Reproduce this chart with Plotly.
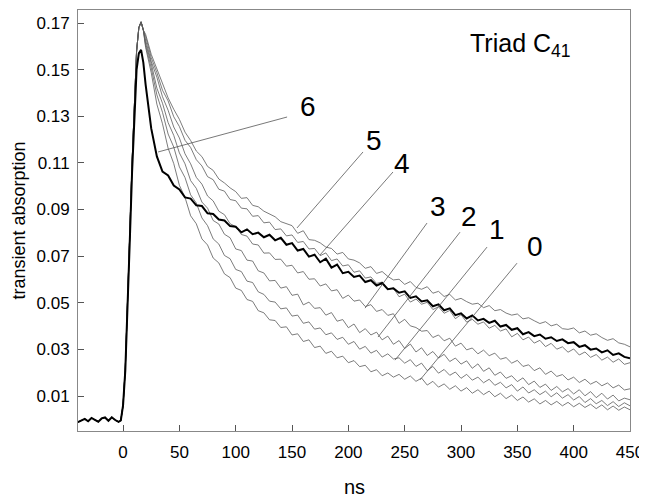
import plotly.graph_objects as go

# ---- time grid (ns) ----
baseline_ns = [-40, -37, -34, -31, -28, -25, -22, -19, -16, -13, -10, -7, -4]
rise_ns = [-2, 0, 2, 4, 6, 8, 10, 12, 14, 16, 18]
tail_ns = list(range(20, 451, 5))

# ---- shared pre-trigger baseline and rising edge ----
baseline = [-0.0012, -0.0004, 0.0002, -0.0008, 0.0006, -0.0002, -0.0010,
            0.0004, 0.0008, -0.0006, 0.0009, -0.0003, -0.0011]
rise_thin = [-0.0005, 0.006, 0.022, 0.048, 0.080, 0.110, 0.138, 0.158, 0.168, 0.1705, 0.167]
rise_thick = [-0.0005, 0.006, 0.021, 0.046, 0.077, 0.106, 0.132, 0.150, 0.157, 0.1585, 0.153]

# ---- decays (20 ns .. 450 ns, every 5 ns) ----
tail_5 = [.1652, .1566, .1503, .1441, .1379, .1330, .1287, .1232, .1196, .1151,
          .1127, .1085, .1068, .1031, .1014, .0993, .0977, .0948, .0951, .0918,
          .0912, .0893, .0881, .0869, .0848, .0839, .0831, .0798, .0809, .0771,
          .0768, .0757, .0739, .0733, .0709, .0716, .0688, .0683, .0671, .0648,
          .0655, .0626, .0634, .0613, .0598, .0601, .0579, .0591, .0566, .0558,
          .0569, .0541, .0549, .0527, .0536, .0512, .0519, .0505, .0494, .0498,
          .0479, .0488, .0466, .0471, .0456, .0447, .0452, .0431, .0436, .0423,
          .0411, .0419, .0401, .0408, .0389, .0386, .0392, .0371, .0379, .0361,
          .0367, .0351, .0339, .0346, .0328, .0322, .0311]
tail_4 = [.1643, .1552, .1487, .1412, .1366, .1298, .1256, .1197, .1166, .1114,
          .1087, .1041, .1028, .0987, .0979, .0943, .0938, .0906, .0903, .0871,
          .0874, .0843, .0846, .0814, .0817, .0787, .0791, .0759, .0763, .0731,
          .0733, .0702, .0714, .0681, .0688, .0658, .0663, .0631, .0637, .0606,
          .0611, .0583, .0589, .0558, .0563, .0526, .0537, .0503, .0516, .0494,
          .0502, .0471, .0483, .0455, .0467, .0432, .0449, .0417, .0429, .0408,
          .0418, .0391, .0403, .0379, .0388, .0354, .0369, .0341, .0353, .0327,
          .0339, .0312, .0326, .0301, .0311, .0288, .0302, .0276, .0289, .0266,
          .0278, .0254, .0267, .0245, .0259, .0236, .0243]
tail_6 = [.1437, .1248, .1128, .1063, .1046, .1003, .0986, .0952, .0947, .0918,
          .0915, .0884, .0881, .0857, .0853, .0829, .0826, .0802, .0815, .0794,
          .0801, .0781, .0792, .0768, .0779, .0749, .0756, .0724, .0731, .0698,
          .0706, .0674, .0689, .0651, .0664, .0627, .0633, .0611, .0617, .0589,
          .0597, .0574, .0585, .0558, .0562, .0543, .0549, .0521, .0528, .0506,
          .0511, .0485, .0493, .0468, .0476, .0447, .0455, .0433, .0446, .0424,
          .0431, .0414, .0423, .0398, .0405, .0384, .0391, .0365, .0374, .0357,
          .0364, .0346, .0352, .0336, .0343, .0327, .0331, .0311, .0318, .0299,
          .0304, .0287, .0296, .0276, .0283, .0268, .0262]
tail_3 = [.1627, .1536, .1468, .1384, .1326, .1254, .1207, .1139, .1096, .1038,
          .1009, .0958, .0937, .0893, .0878, .0839, .0827, .0793, .0786, .0752,
          .0748, .0713, .0714, .0686, .0687, .0657, .0661, .0628, .0634, .0601,
          .0603, .0572, .0581, .0551, .0556, .0519, .0533, .0507, .0512, .0484,
          .0492, .0463, .0471, .0446, .0453, .0412, .0429, .0401, .0394, .0378,
          .0381, .0351, .0362, .0337, .0348, .0314, .0327, .0298, .0306, .0281,
          .0297, .0273, .0284, .0258, .0265, .0241, .0253, .0227, .0234, .0209,
          .0221, .0193, .0207, .0184, .0192, .0169, .0181, .0158, .0172, .0151,
          .0163, .0144, .0156, .0135, .0147, .0126, .0131]
tail_2 = [.1613, .1527, .1421, .1356, .1273, .1218, .1143, .1096, .1024, .0991,
          .0932, .0906, .0853, .0838, .0794, .0779, .0731, .0724, .0683, .0679,
          .0637, .0628, .0594, .0596, .0563, .0569, .0532, .0537, .0491, .0503,
          .0476, .0479, .0447, .0458, .0421, .0428, .0393, .0409, .0372, .0389,
          .0362, .0374, .0341, .0357, .0322, .0338, .0304, .0323, .0289, .0307,
          .0274, .0291, .0263, .0279, .0248, .0263, .0237, .0251, .0219, .0238,
          .0206, .0221, .0189, .0203, .0176, .0187, .0162, .0178, .0149, .0164,
          .0137, .0151, .0124, .0141, .0118, .0132, .0109, .0127, .0101, .0119,
          .0093, .0112, .0087, .0104, .0079, .0091, .0084]
tail_1 = [.1604, .1508, .1392, .1317, .1224, .1168, .1083, .1037, .0963, .0928,
          .0864, .0831, .0774, .0752, .0703, .0689, .0643, .0634, .0593, .0587,
          .0547, .0536, .0507, .0503, .0474, .0478, .0443, .0447, .0412, .0418,
          .0387, .0392, .0363, .0371, .0343, .0352, .0322, .0334, .0301, .0313,
          .0284, .0296, .0267, .0281, .0259, .0264, .0241, .0256, .0227, .0241,
          .0209, .0227, .0198, .0214, .0189, .0203, .0176, .0193, .0168, .0181,
          .0157, .0172, .0146, .0159, .0135, .0149, .0121, .0139, .0113, .0127,
          .0106, .0121, .0097, .0114, .0091, .0106, .0083, .0098, .0072, .0089,
          .0067, .0081, .0059, .0076, .0055, .0071, .0058]
tail_0 = [.1596, .1487, .1352, .1268, .1163, .1097, .1004, .0952, .0873, .0839,
          .0774, .0748, .0692, .0671, .0624, .0608, .0563, .0553, .0514, .0506,
          .0466, .0457, .0427, .0424, .0394, .0397, .0362, .0367, .0334, .0341,
          .0308, .0314, .0283, .0292, .0264, .0271, .0243, .0252, .0226, .0232,
          .0204, .0213, .0187, .0199, .0181, .0193, .0172, .0186, .0163, .0177,
          .0147, .0163, .0138, .0152, .0129, .0144, .0121, .0136, .0112, .0127,
          .0106, .0121, .0097, .0112, .0089, .0104, .0081, .0096, .0074, .0088,
          .0066, .0081, .0062, .0077, .0058, .0073, .0054, .0069, .0051, .0065,
          .0046, .0062, .0041, .0057, .0039, .0053, .0041]

thin_tails = {"0": tail_0, "1": tail_1, "2": tail_2, "3": tail_3, "4": tail_4, "5": tail_5}

# ---- tick labels ----
y_ticks = [0.01, 0.03, 0.05, 0.07, 0.09, 0.11, 0.13, 0.15, 0.17]
y_ticktext = ["0.01", "0.03", "0.05", "0.07", "0.09", "0.11", "0.13", "0.15", "0.17"]
x_ticks = [0, 50, 100, 150, 200, 250, 300, 350, 400, 450]
x_ticktext = ["0", "50", "100", "150", "200", "250", "300", "350", "400", "450"]

# ---- curve labels: (text, label x, label y, leader start x, y, leader end x, y) ----
curve_labels = ["6", "5", "4", "3", "2", "1", "0"]
label_x = [164, 223, 248, 280, 307, 332, 366]
label_y = [0.1340, 0.1198, 0.1099, 0.0911, 0.0872, 0.0816, 0.0743]
leader_x0 = [145.6, 213.0, 239.6, 269.8, 299.1, 323.1, 349.7]
leader_y0 = [0.1297, 0.1147, 0.1061, 0.0842, 0.0803, 0.0739, 0.0670]
leader_x1 = [31.1, 154.4, 174.8, 214.8, 226.3, 241.4, 263.6]
leader_y1 = [0.1147, 0.0821, 0.0705, 0.0477, 0.0353, 0.0254, 0.0169]

FONT = "Liberation Sans, Arial, Helvetica, sans-serif"

fig = go.Figure()

def full_x(tail):
    return baseline_ns + rise_ns + tail_ns[:len(tail)]

for name, tail in thin_tails.items():
    fig.add_trace(go.Scatter(
        x=full_x(tail), y=baseline + rise_thin + tail, mode="lines",
        line=dict(color="#5a5a5a", width=0.8), name=name, showlegend=False,
        hoverinfo="skip"))

fig.add_trace(go.Scatter(
    x=full_x(tail_6), y=baseline + rise_thick + tail_6, mode="lines",
    line=dict(color="#000000", width=2), name="6", showlegend=False,
    hoverinfo="skip"))

for i, lab in enumerate(curve_labels):
    fig.add_shape(type="line", xref="x", yref="y",
                  x0=leader_x0[i], y0=leader_y0[i], x1=leader_x1[i], y1=leader_y1[i],
                  line=dict(color="#555555", width=0.8))
    fig.add_annotation(x=label_x[i], y=label_y[i], text=lab, showarrow=False,
                       xanchor="center", yanchor="middle",
                       font=dict(family=FONT, size=28, color="#000"))

fig.add_annotation(x=306, y=0.1606, text="Triad C<sub>41</sub>", showarrow=False,
                   xanchor="left", yanchor="middle",
                   font=dict(family=FONT, size=25, color="#000"))

fig.add_annotation(xref="paper", yref="paper", x=0.5, y=0, yshift=-56,
                   text="ns", showarrow=False, xanchor="center", yanchor="middle",
                   font=dict(family=FONT, size=20, color="#000"))
fig.add_annotation(xref="paper", yref="paper", x=0, y=0.5, xshift=-60,
                   text="transient absorption", showarrow=False, textangle=-90,
                   xanchor="center", yanchor="middle",
                   font=dict(family=FONT, size=18, color="#000"))

axis_common = dict(showgrid=False, zeroline=False, showline=True, mirror=True,
                   linecolor="#888888", linewidth=1, ticks="inside", ticklen=6,
                   tickcolor="#555555", tickwidth=1, automargin=False,
                   tickfont=dict(family=FONT, size=17, color="#000"))

fig.update_xaxes(range=[-40, 450], tickvals=x_ticks, ticktext=x_ticktext,
                 ticklabelstandoff=6, **axis_common)
fig.update_yaxes(range=[-0.005, 0.1756], tickvals=y_ticks, ticktext=y_ticktext,
                 ticklabelstandoff=4, **axis_common)

# the page body adds an 8 px offset, so the figure is 8 px smaller and the
# top/left margins are reduced by 8 px to keep the plot area where it belongs
fig.update_layout(width=639, height=489,
                  margin=dict(l=70, r=17, t=2, b=66, autoexpand=False),
                  paper_bgcolor="white", plot_bgcolor="white",
                  font=dict(family=FONT, color="#000"))

fig.write_html("out.html")
